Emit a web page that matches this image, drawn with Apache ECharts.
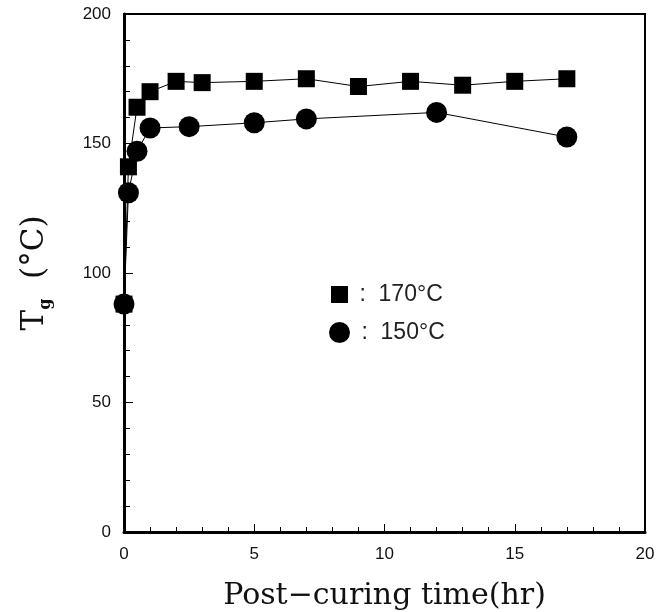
<!DOCTYPE html>
<html>
<head>
<meta charset="utf-8">
<script src="https://cdn.jsdelivr.net/npm/echarts@6/dist/echarts.min.js"></script>
<style>
  html, body { margin: 0; padding: 0; background: #fff; }
  #box { width: 660px; height: 612px; }
</style>
</head>
<body>
<div id="box"></div>
<script>
// post-curing time (hr) and Tg (°C)
var time170 = [0, 0.17, 0.5, 1, 2, 3, 5, 7, 9, 11, 13, 15, 17]
var tg170 = [88, 141, 164, 170, 174, 173.5, 174, 175, 172, 174, 172.5, 174, 175]
var time150 = [0, 0.17, 0.5, 1, 2.5, 5, 7, 12, 17]
var tg150 = [88, 131, 147, 156, 156.5, 158, 159.5, 162, 152.5]

var xTicks = [0, 5, 10, 15, 20]
var yTicks = [0, 50, 100, 150, 200]

function pairs(xs, ys) {
    return xs.map(function (x, i) { return [x, ys[i]] })
}

var chart = echarts.init(document.getElementById('box'))

var labelFont = 'Liberation Sans'
var titleFont = 'DejaVu Serif'

chart.setOption({
    animation: false,
    backgroundColor: '#fff',
    grid: {
        left: 124,
        right: 15,
        top: 14,
        bottom: 80,
        outerBoundsMode: 'none',
        show: true,
        borderColor: '#000',
        borderWidth: 2
    },
    legend: [{
        data: ['170°C'],
        left: 326,
        top: 278,
        icon: 'rect',
        itemWidth: 17,
        itemHeight: 17,
        formatter: function (name) { return ' :  ' + name },
        textStyle: { fontFamily: labelFont, fontSize: 23, color: '#222' }
    }, {
        data: ['150°C'],
        left: 324,
        top: 316,
        icon: 'circle',
        itemWidth: 21,
        itemHeight: 21,
        formatter: function (name) { return ' :  ' + name },
        textStyle: { fontFamily: labelFont, fontSize: 23, color: '#222' }
    }],
    xAxis: {
        type: 'value',
        min: xTicks[0],
        max: xTicks[xTicks.length - 1],
        interval: 5,
        name: 'Post\u2212curing time(hr)',
        nameLocation: 'middle',
        nameGap: 49,
        nameTextStyle: { fontFamily: titleFont, fontSize: 30, color: '#111' },
        axisLine: { lineStyle: { color: '#000', width: 3 } },
        axisTick: { inside: true, length: 8, lineStyle: { color: '#000', width: 1 } },
        minorTick: { show: true, splitNumber: 5, length: 5, lineStyle: { color: '#000', width: 1 } },
        axisLabel: { fontFamily: labelFont, fontSize: 17, color: '#111', margin: 14 },
        splitLine: { show: false }
    },
    yAxis: {
        type: 'value',
        min: yTicks[0],
        max: yTicks[yTicks.length - 1],
        interval: 50,
        name: 'T{g|g}  (°C)',
        nameLocation: 'middle',
        nameRotate: 90,
        nameGap: 70,
        nameTextStyle: {
            fontFamily: titleFont, fontSize: 31, color: '#111', lineHeight: 38,
            rich: {
                g: { fontFamily: titleFont, fontSize: 16, fontWeight: 'bold', color: '#111', verticalAlign: 'bottom', lineHeight: 38 }
            }
        },
        axisLine: { lineStyle: { color: '#000', width: 3 } },
        axisTick: { inside: true, length: 9, lineStyle: { color: '#000', width: 1 } },
        minorTick: { show: true, splitNumber: 5, length: 6, lineStyle: { color: '#000', width: 1 } },
        axisLabel: { fontFamily: labelFont, fontSize: 17, color: '#111', margin: 13 },
        splitLine: { show: false }
    },
    series: [{
        name: '170°C',
        type: 'line',
        data: pairs(time170, tg170),
        symbol: 'rect',
        symbolSize: 17,
        itemStyle: { color: '#000' },
        lineStyle: { color: '#000', width: 1 }
    }, {
        name: '150°C',
        type: 'line',
        data: pairs(time150, tg150),
        symbol: 'circle',
        symbolSize: 21,
        itemStyle: { color: '#000' },
        lineStyle: { color: '#000', width: 1 }
    }]
})
</script>
</body>
</html>
